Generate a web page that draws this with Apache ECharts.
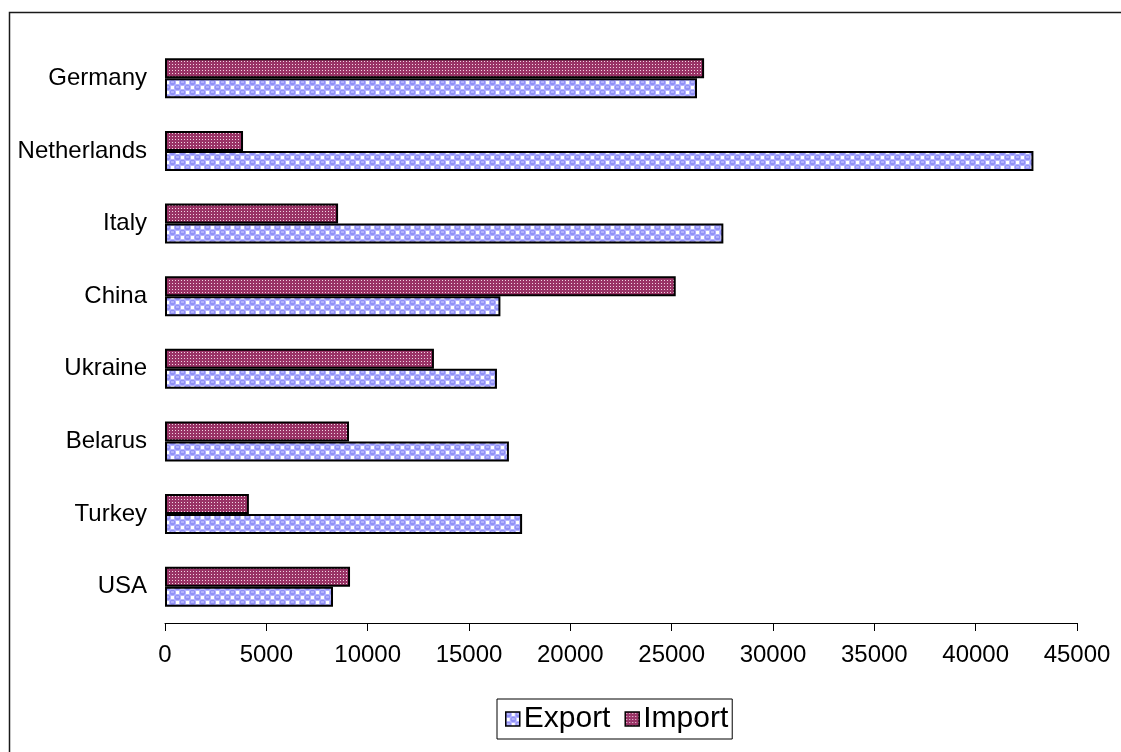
<!DOCTYPE html>
<html>
<head>
<meta charset="utf-8">
<script src="https://cdn.jsdelivr.net/npm/echarts@6/dist/echarts.min.js"></script>
<style>
  html, body { margin: 0; padding: 0; background: #fff; }
  #chart { width: 1121px; height: 752px; }
</style>
</head>
<body>
<div id="chart"></div>
<script>
// Trade partners, top to bottom
const countries = ['Germany', 'Netherlands', 'Italy', 'China', 'Ukraine', 'Belarus', 'Turkey', 'USA'];
const exportValues = [26250, 42850, 27550, 16550, 16380, 16970, 17620, 8290];
const importValues = [26600, 3850, 8540, 25200, 13270, 9080, 4140, 9130];
const xTicks = { min: 0, max: 45000, interval: 5000 };

// Export fill: periwinkle circles on a white checker
function exportPattern() {
  const c = document.createElement('canvas');
  c.width = 10; c.height = 10;
  const g = c.getContext('2d');
  g.fillStyle = '#b8b8ff';
  g.fillRect(0, 0, 10, 10);
  g.fillStyle = '#ffffff';
  g.fillRect(6, 1, 3, 3);
  g.fillRect(1, 6, 3, 3);
  g.fillStyle = '#9191f7';
  g.beginPath(); g.arc(2.5, 2.5, 2.8, 0, Math.PI * 2); g.fill();
  g.beginPath(); g.arc(7.5, 7.5, 2.8, 0, Math.PI * 2); g.fill();
  g.fillStyle = '#d6d6ff';
  g.fillRect(1, 1.5, 3, 1);
  g.fillRect(6, 6.5, 3, 1);
  return c;
}

// Import fill: maroon with a fine grid of light dots
function importPattern() {
  const c = document.createElement('canvas');
  c.width = 3; c.height = 3;
  const g = c.getContext('2d');
  g.fillStyle = '#993366';
  g.fillRect(0, 0, 3, 3);
  g.fillStyle = '#f2d4e3';
  g.fillRect(1, 1, 1, 1);
  return c;
}

const exportFill = { image: exportPattern(), repeat: 'repeat' };
const importFill = { image: importPattern(), repeat: 'repeat' };

const chart = echarts.init(document.getElementById('chart'), null, { renderer: 'canvas' });

const font = 'Liberation Sans, Arial, sans-serif';

chart.setOption({
  animation: false,
  backgroundColor: '#ffffff',
  graphic: [{
    type: 'rect',
    shape: { x: 9.5, y: 12.5, width: 1300, height: 900 },
    style: { fill: 'none', stroke: '#1a1a1a', lineWidth: 1.5 },
    silent: true,
    z: 0
  }],
  grid: { left: 165, right: 44, top: 42, bottom: 129 },
  legend: {
    data: ['Export', 'Import'],
    icon: 'rect',
    left: 497,
    top: 699,
    itemWidth: 14,
    itemHeight: 14,
    itemGap: 14,
    padding: [5, 4, 5, 8],
    borderColor: '#000',
    borderWidth: 1,
    itemStyle: { borderColor: '#000', borderWidth: 1.5 },
    textStyle: { fontFamily: font, fontSize: 30, color: '#000', padding: [0, 0, 0, -1] }
  },
  xAxis: {
    type: 'value',
    min: xTicks.min,
    max: xTicks.max,
    interval: xTicks.interval,
    splitLine: { show: false },
    axisLine: { show: true, lineStyle: { color: '#000', width: 1 } },
    axisTick: { show: true, length: 8, lineStyle: { color: '#000' } },
    axisLabel: { color: '#000', fontFamily: font, fontSize: 24, margin: 20, formatter: v => String(v) }
  },
  yAxis: {
    type: 'category',
    data: countries,
    inverse: true,
    axisLine: { show: false },
    axisTick: { show: false },
    axisLabel: { color: '#000', fontFamily: font, fontSize: 24, margin: 18 }
  },
  series: [
    {
      name: 'Import',
      type: 'bar',
      data: importValues,
      barWidth: 20,
      barGap: '0%',
      itemStyle: { color: importFill, borderColor: '#000', borderWidth: 2 }
    },
    {
      name: 'Export',
      type: 'bar',
      data: exportValues,
      barWidth: 20,
      barGap: '0%',
      itemStyle: { color: exportFill, borderColor: '#000', borderWidth: 2 }
    }
  ]
});
</script>
</body>
</html>
